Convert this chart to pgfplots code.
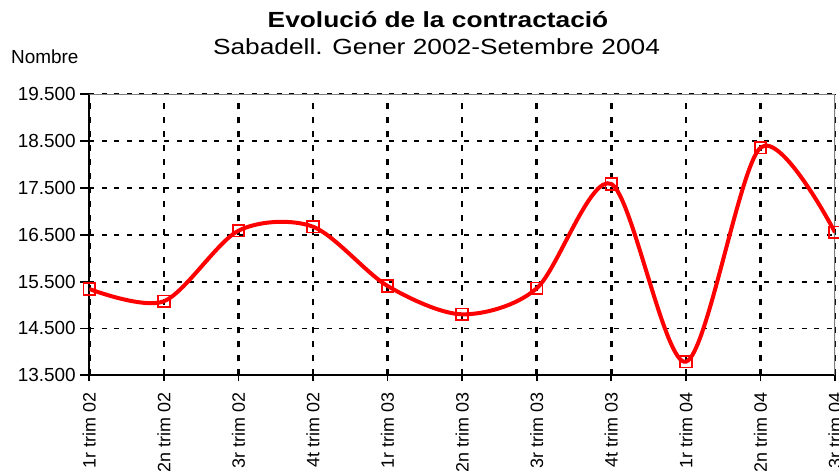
\documentclass[border=0pt]{standalone}
\usepackage{fontspec}
\setmainfont{Liberation Sans}
\newfontfamily\titlefont[FakeStretch=1.2]{Liberation Sans}
\usepackage{pgfplots}
\pgfplotsset{compat=1.18}

\begin{document}
\begin{tikzpicture}
\useasboundingbox (0,0) rectangle (839bp,471bp);
\begin{axis}[
    at={(89.3bp,95.7bp)}, anchor=south west,
    scale only axis, width=745.7bp, height=281bp,
    xmin=0, xmax=10, ymin=13500, ymax=19500,
    axis x line*=bottom, axis y line*=left,
    x axis line style={-, black, line width=1.8bp},
    y axis line style={-, black, line width=1.8bp},
    xtick={0,...,10},
    xticklabels={1r trim 02,2n trim 02,3r trim 02,4t trim 02,1r trim 03,2n trim 03,3r trim 03,4t trim 03,1r trim 04,2n trim 04,3r trim 04},
    ytick={13500,14500,...,19500},
    scaled y ticks=false,
    tick align=center, major tick length=12bp,
    tick style={black, line width=1.8bp},
    y tick style={xshift=-3bp},
    xmajorgrids, ymajorgrids,
    x grid style={black, line width=2.6bp, dash pattern=on 6bp off 8bp},
    y grid style={black, line width=1.8bp, dash pattern=on 5bp off 7.5bp},
    yticklabel style={font=\fontsize{19}{22}\selectfont, xshift=-4bp},
    xticklabel style={font=\fontsize{18}{21}\selectfont, rotate=90, anchor=east, xshift=-8bp},
    /pgf/number format/fixed,
    /pgf/number format/precision=0,
    /pgf/number format/1000 sep={.},
    /pgf/number format/assume math mode=true,
]
\draw[gray, line width=2bp] (rel axis cs:0,1) -- (rel axis cs:1,1) -- (rel axis cs:1,0);
\addplot[red, line width=4bp, smooth, tension=0.5, mark=square, mark size=5.8bp,
    mark options={solid, line width=1.8bp, fill=white}]
    coordinates {
    (0,15343) (1,15080) (2,16587) (3,16673) (4,15407) (5,14802)
    (6,15357) (7,17585) (8,13790) (9,18360) (10,16553)
    };
\end{axis}
\node[anchor=base, font=\titlefont\bfseries\fontsize{22}{26}\selectfont] at (438bp,443bp) {Evolució de la contractació};
\node[anchor=base, font=\titlefont\fontsize{22}{26}\selectfont] at (436.5bp,416bp) {Sabadell. Gener 2002-Setembre 2004};
\node[anchor=base west, inner sep=0pt, font=\fontsize{19}{22}\selectfont] at (11bp,407.7bp) {Nombre};
\end{tikzpicture}
\end{document}
